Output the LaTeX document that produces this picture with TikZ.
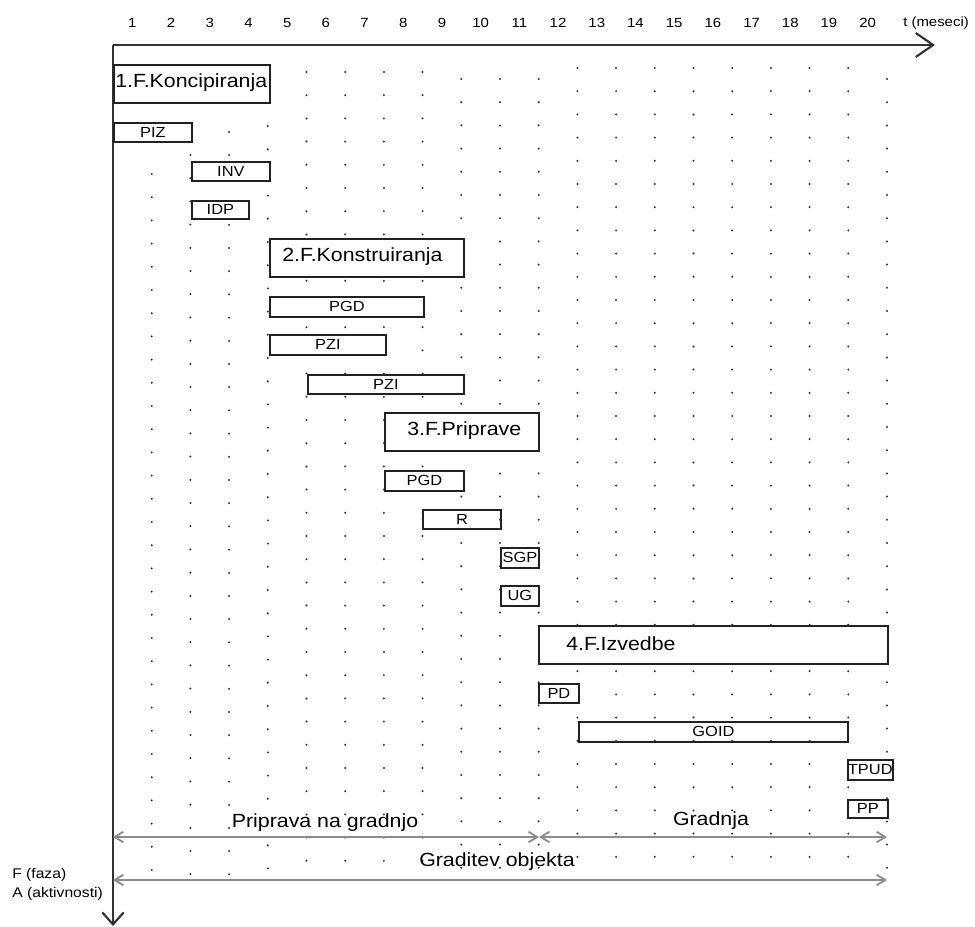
\documentclass[tikz,border=0pt]{standalone}
\usepackage{fontspec}
\setmainfont{Liberation Sans}[FakeStretch=1.12]
\usetikzlibrary{arrows.meta}
\definecolor{ink}{HTML}{222222}
\definecolor{axisc}{HTML}{333333}
\definecolor{arrc}{HTML}{8C8C8C}
\definecolor{dotc}{HTML}{333333}
\tikzset{
 boxst/.style={draw=ink, line width=1.4pt, fill=white, inner sep=0pt, font=\fontsize{11}{13}\selectfont},
 boxopen/.style={boxst, fill=none},
 phasetxt/.style={anchor=west, inner sep=0pt, font=\fontsize{14.3}{17}\selectfont},
 axlbl/.style={inner sep=0pt, font=\fontsize{10}{12}\selectfont},
 sidelbl/.style={inner sep=0pt, anchor=west, font=\fontsize{10.5}{12}\selectfont},
 spanlbl/.style={inner sep=0pt, font=\fontsize{14.3}{17}\selectfont},
 axisline/.style={draw=axisc, line width=1.6pt},
 spanarrow/.style={draw=arrc, line width=1.4pt, {Straight Barb[length=6.5pt,width=8pt]}-{Straight Barb[length=6.5pt,width=8pt]}},
}
\newcommand\gbox[7][boxst]{\node[#1, minimum width={(#5-#3)*0.75pt}, minimum height={(#6-#4)*0.75pt}, anchor=north west] (#2) at (#3,#4) {#7};}
\begin{document}
\begin{tikzpicture}[x=0.75pt,y=-0.75pt]
\useasboundingbox (0,0) rectangle (975,927);
% dotted grid
\foreach \k/\s in {1/174,2/155,3/132,4/126,5/72,6/72,7/72,8/72,9/79,10/79,11/79,12/68,13/68,14/68,15/68,16/68,17/68,18/68,19/68,20/79}{
  \pgfmathtruncatemacro\nm{(881-\s)/23.2}
  \foreach \n in {0,...,\nm}{\fill[dotc] ({113+38.7*\k},{\s+23.2*\n}) circle (0.85pt);}
}
% axes
\coordinate (O) at (113,45);
\coordinate (Tend) at (935,45);
\coordinate (Aend) at (113,926);
\draw[axisline, -{Straight Barb[length=13pt,width=18pt]}] (O) -- (Tend);
\draw[axisline, -{Straight Barb[length=9pt,width=16pt]}] (O) -- (Aend);
\foreach \k in {1,...,20}{\node[axlbl] (n\k) at ({113+38.7*(\k-0.5)},23) {\k};}
\node[axlbl, anchor=west] (tlbl) at (903,23) {t (meseci)};
\node[sidelbl] (fz) at (12,875) {F (faza)};
\node[sidelbl] (ak) at (12,894) {A (aktivnosti)};
% span arrows
\coordinate (pL) at (113,837);
\coordinate (pM) at (539,837);
\coordinate (pR) at (887,837);
\coordinate (gL) at (113,880);
\coordinate (gR) at (887,880);
\draw[spanarrow] (pL) -- (pM);
\draw[spanarrow] (pM) -- (pR);
\draw[spanarrow] (gL) -- (gR);
\node[spanlbl] (prip) at (325,823) {Priprava na gradnjo};
\node[spanlbl] (grad) at (711,821) {Gradnja};
\node[spanlbl] (gradit) at (497,862) {Graditev objekta};
% boxes
\gbox{f1}{113}{64}{269}{102}{}
\node[phasetxt] (f1t) at (115,83) {1.F.Koncipiranja};
\gbox{piz}{113}{122}{191}{141}{PIZ}
\gbox{inv}{191}{161}{269}{180}{INV}
\gbox{idp}{191}{200}{248}{218}{IDP}
\gbox{f2}{269}{238}{463}{276}{}
\node[phasetxt] (f2t) at (282,257) {2.F.Konstruiranja};
\gbox{pgd}{269}{296}{423}{316}{PGD}
\gbox{pzi}{269}{334}{385}{354}{PZI}
\gbox{pzib}{307}{374}{463}{393}{PZI}
\gbox{f3}{384}{412}{538}{450}{}
\node[phasetxt] (f3t) at (407,431) {3.F.Priprave};
\gbox{pgdb}{384}{470}{463}{490}{PGD}
\gbox[boxopen]{r}{422}{509}{500}{528}{R}
\gbox{sgp}{500}{547}{538}{567}{SGP}
\gbox{ug}{500}{585}{538}{605}{UG}
\gbox{f4}{538}{625}{887}{663}{}
\node[phasetxt] (f4t) at (566,644) {4.F.Izvedbe};
\gbox{pd}{538}{683}{578}{702}{PD}
\gbox[boxopen]{goid}{578}{721}{847}{741}{GOID}
\gbox{tpud}{847}{759}{887}{779}{TPUD}
\gbox{pp}{847}{799}{887}{817}{PP}
\end{tikzpicture}
\end{document}
